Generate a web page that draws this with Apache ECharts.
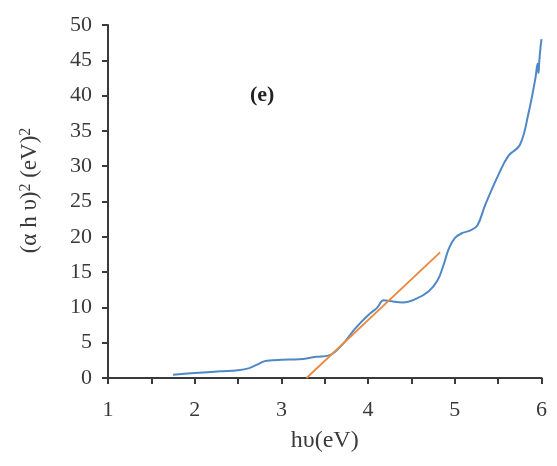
<!DOCTYPE html>
<html><head><meta charset="utf-8">
<script src="https://cdn.jsdelivr.net/npm/echarts@6/dist/echarts.min.js"></script>
<style>html,body{margin:0;padding:0;background:#fff}#c{width:557px;height:466px}</style>
</head><body><div id="c"></div>
<script>
// Blue absorption curve: photon energy (eV) and (αhυ)^2
const energy = [1.75, 2.0, 2.3, 2.5, 2.63, 2.72, 2.8, 2.9, 3.0, 3.2, 3.4, 3.55, 3.7, 3.85, 4.0, 4.1, 4.18, 4.25, 4.4, 4.55, 4.7, 4.8, 4.87, 4.93, 5.0, 5.08, 5.18, 5.26, 5.35, 5.5, 5.62, 5.75, 5.85, 5.93, 5.955, 5.965, 5.975, 5.99, 6.0];
const absorb = [0.45, 0.7, 0.95, 1.1, 1.4, 1.9, 2.35, 2.5, 2.6, 2.65, 3.0, 3.2, 4.7, 7.0, 8.9, 9.9, 11.0, 10.9, 10.7, 11.2, 12.3, 13.8, 16.0, 18.3, 19.8, 20.5, 20.9, 21.6, 24.5, 28.7, 31.5, 33.0, 37.5, 42.5, 44.5, 43.2, 45.0, 47.0, 48.0];
// Orange linear fit (Tauc extrapolation)
const fitX = [3.29, 4.83];
const fitY = [0, 17.8];
const xTicks = [1, 2, 3, 4, 5, 6];

const chart = echarts.init(document.getElementById('c'), null, {renderer: 'canvas'});
const axisCol = '#3a3a3a';
const font = 'Liberation Serif, Times New Roman, serif';
chart.setOption({
  animation: false,
  backgroundColor: '#fff',
  grid: {left: 108, right: 15.5, top: 25, bottom: 88, containLabel: false},
  title: {
    text: '(e)', left: 245, top: 79,
    textStyle: {fontFamily: font, fontSize: 22, fontWeight: 'bold', color: '#222'}
  },
  xAxis: {
    type: 'value', min: 1, max: 6, interval: 0.5,
    name: 'hυ(eV)', nameLocation: 'middle', nameGap: 51,
    nameTextStyle: {fontFamily: font, fontSize: 24, color: axisCol},
    axisLine: {show: true, onZero: false, lineStyle: {color: axisCol, width: 2}},
    axisTick: {show: true, inside: false, length: 6, lineStyle: {color: axisCol, width: 2}},
    axisLabel: {
      fontFamily: font, fontSize: 22, color: axisCol, margin: 21,
      formatter: v => xTicks.indexOf(v) >= 0 ? String(v) : ''
    },
    splitLine: {show: false}
  },
  yAxis: {
    type: 'value', min: 0, max: 50, interval: 5,
    name: '(α h υ){s|2} (eV){s|2}', nameLocation: 'middle', nameGap: 66,
    nameTextStyle: {
      fontFamily: font, fontSize: 23, color: axisCol, padding: [0, 0, 0, 22],
      rich: {s: {fontFamily: font, fontSize: 16, color: axisCol, verticalAlign: 'bottom', padding: [0, 0, 8, 0]}}
    },
    axisLine: {show: true, lineStyle: {color: axisCol, width: 2}},
    axisTick: {show: true, inside: false, length: 6, lineStyle: {color: axisCol, width: 2}},
    axisLabel: {fontFamily: font, fontSize: 22, color: axisCol, margin: 16},
    splitLine: {show: false}
  },
  series: [
    {
      type: 'line', smooth: 0.4, symbol: 'none',
      data: energy.map((x, i) => [x, absorb[i]]),
      lineStyle: {color: '#4F88C6', width: 2}
    },
    {
      type: 'line', symbol: 'none',
      data: fitX.map((x, i) => [x, fitY[i]]),
      lineStyle: {color: '#E9893F', width: 1.8}
    }
  ]
});
</script></body></html>
